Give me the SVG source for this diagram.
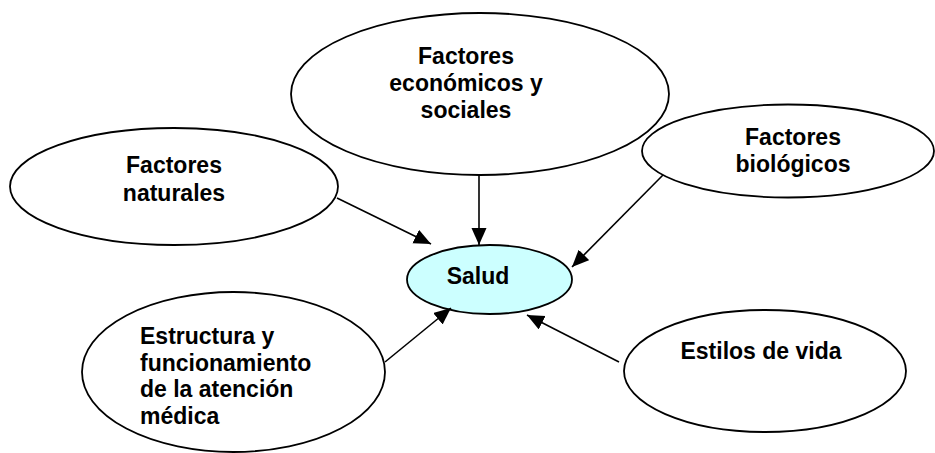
<svg xmlns="http://www.w3.org/2000/svg" width="935" height="453" viewBox="0 0 935 453">
<style>
.node ellipse{fill:#fff;stroke:#000;stroke-width:1.8}
.center ellipse{fill:#ccffff}
text{font-family:"Liberation Sans",Arial,sans-serif;font-weight:bold;font-size:23px;fill:#000}
.c{text-anchor:middle}
.conn line{stroke:#000;stroke-width:1.6;marker-end:url(#ah)}
</style>
<defs>
<marker id="ah" markerUnits="userSpaceOnUse" markerWidth="18" markerHeight="16" refX="17" refY="7.5" orient="auto">
<path d="M0,0 L17,7.5 L0,15 z" fill="#000"/>
</marker>
</defs>
<rect width="935" height="453" fill="#fff"/>
<g id="economicos" class="node">
<ellipse cx="480" cy="94" rx="189" ry="81"/>
<text class="c" x="466" y="64">Factores</text>
<text class="c" x="466" y="91">económicos y</text>
<text class="c" x="466" y="118">sociales</text>
</g>
<g id="naturales" class="node">
<ellipse cx="174" cy="186.5" rx="164" ry="58.5"/>
<text class="c" x="174" y="173">Factores</text>
<text class="c" x="174" y="201">naturales</text>
</g>
<g id="biologicos" class="node">
<ellipse cx="788" cy="151" rx="146" ry="46.5"/>
<text class="c" x="793" y="145">Factores</text>
<text class="c" x="793" y="172">biológicos</text>
</g>
<g id="estructura" class="node">
<ellipse cx="233.5" cy="372" rx="151.5" ry="80"/>
<text x="140" y="344">Estructura y</text>
<text x="140" y="371">funcionamiento</text>
<text x="140" y="397">de la atención</text>
<text x="140" y="424">médica</text>
</g>
<g id="estilos" class="node">
<ellipse cx="765" cy="371" rx="141" ry="61"/>
<text class="c" x="761" y="359">Estilos de vida</text>
</g>
<g id="salud" class="node center">
<ellipse cx="489.5" cy="279.5" rx="82.5" ry="34.5"/>
<text class="c" x="478" y="284">Salud</text>
</g>
<g id="connectors" class="conn">
<line x1="479" y1="175" x2="479" y2="245"/>
<line x1="337" y1="198" x2="431" y2="244"/>
<line x1="663" y1="175" x2="572" y2="267"/>
<line x1="385" y1="362" x2="451" y2="308"/>
<line x1="619" y1="362" x2="527" y2="315"/>
</g>
</svg>
